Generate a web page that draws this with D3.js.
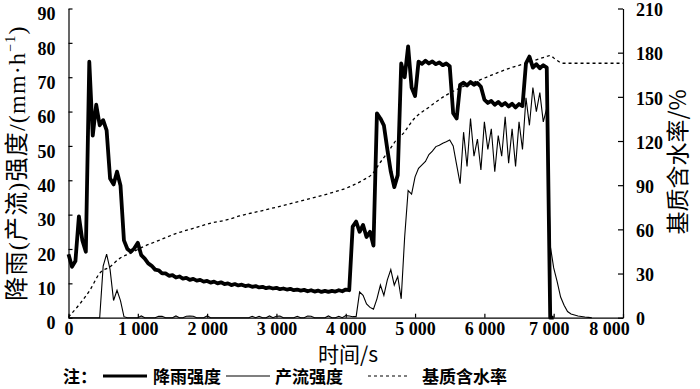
<!DOCTYPE html>
<html lang="zh">
<head>
<meta charset="UTF-8">
<title>降雨强度、产流强度与基质含水率</title>
<script src="https://d3js.org/d3.v7.min.js"></script>
<style>
    body { margin: 0; background: #fff; }
    .cjk { font-family: "Noto Sans CJK SC", sans-serif; fill: #000; }
    .axis path, .axis line { stroke: #000; stroke-width: 1.2; }
</style>
</head>
<body>
<svg id="chart"></svg>
<script>
// rainfall / runoff intensity (mm/h), sampled every 50 s
var sampleStep = 50;
var rain = [
    18.5, 14.8, 16.5, 29.5, 22.5, 19.2, 74.5, 53, 62, 56,
    57.5, 54.5, 40.5, 38.8, 42.5, 38.5, 22.5, 20, 19.2, 20.2,
    21.8, 18.2, 17.2, 15.8, 15.1, 14, 13.8, 12.9, 12.9, 12.2,
    12.4, 11.7, 12, 11.4, 11.6, 11, 11.3, 10.8, 11, 10.5,
    10.7, 10.2, 10.5, 10, 10.3, 9.8, 10, 9.5, 9.8, 9.4,
    9.6, 9.2, 9.4, 9, 9.2, 8.8, 9, 8.6, 8.8, 8.5,
    8.7, 8.3, 8.5, 8.2, 8.4, 8, 8.2, 7.9, 8.1, 7.7,
    8, 7.6, 7.9, 7.5, 7.8, 7.5, 7.8, 7.6, 8, 7.7,
    8.2, 8, 26.5, 28, 25, 27, 23.5, 25, 21, 59.5,
    58, 56, 49, 42.5, 38, 41.5, 74, 70, 79, 67,
    64.5, 74.5, 73.9, 74.8, 74, 74.6, 73.8, 74.3, 73.5, 74,
    73.2, 59.5, 58, 67.8, 68.4, 67.6, 68.6, 67.8, 68.3, 67.2,
    63.5, 62.5, 63.1, 62, 62.8, 61.8, 62.5, 61.5, 62.3, 61.2,
    62.2, 61.6, 74, 76, 72.8, 73.8, 72.6, 73.5, 72.8, 0,
    0
];
var runoff = [
    0, 0, 0, 0, 0, 0, 0, 0, 0, 0,
    15, 18.5, 14, 5, 8, 5, 0.3, 0, 0, 0,
    0, 0.5, 0, 0, 0, 0, 0.4, 0.4, 0, 0,
    0, 0.5, 0, 0, 0.4, 0.5, 0.4, 0, 0, 0,
    0.5, 0, 0, 0, 0, 0, 0, 0, 0, 0,
    0, 0, 0, 0.4, 0, 0.4, 0, 0, 0.5, 0,
    0.4, 0.5, 0, 0, 0, 0, 0.4, 0, 0, 0.5,
    0.4, 0, 0, 0, 0, 0.5, 0, 0, 0.4, 0,
    0.6, 0.5, 0.3, 0.3, 7.5, 6.5, 4, 3, 2.5, 5.5,
    9.5, 6.5, 11, 14, 9.5, 12, 5.5, 23.5, 37, 36,
    41, 43.5, 44.5, 45.5, 47.5, 48.5, 49.8, 50.2, 50.8, 51.2,
    51.7, 50, 44.5, 39, 54, 44, 58, 47, 52, 43,
    57, 49, 55, 42.5, 53, 47, 58.5, 45, 55, 44,
    57, 49, 64, 56, 67, 60, 65.5, 57, 61, 21,
    14.5, 10.5, 6, 3.6, 1.8, 1.1, 0.8, 0.5, 0.35, 0.2,
    0.1, 0
];
// substrate water content (%)
var waterTime = [0, 170, 310, 450, 600, 740, 890, 1080, 1320, 1560, 1800, 2040, 2280, 2470,
    2800, 3100, 3400, 3770, 4060, 4250, 4390, 4490, 4630, 4730, 4830, 4970, 5210, 5450,
    5690, 5930, 6170, 6360, 6600, 6890, 6940, 7040, 7130, 7400, 8000];
var waterValue = [0.5, 9.8, 18.8, 30.2, 34.6, 40.3, 43.7, 48.2, 52.8, 57.3, 60.7, 64.1, 66.4, 69.1,
    72.8, 76.2, 79.8, 84.5, 89, 93.5, 98, 104.9, 113.9, 120.7, 125.2, 134.3, 143.3, 151.2,
    156.9, 161.4, 166, 169.4, 172.8, 177.3, 178, 175, 172.8, 172.8, 172.8];

var xTicks = [0, 1000, 2000, 3000, 4000, 5000, 6000, 7000, 8000];
var leftTicks = [0, 10, 20, 30, 40, 50, 60, 70, 80, 90];
var rightTicks = [0, 30, 60, 90, 120, 150, 180, 210];
var legendItems = ["降雨强度", "产流强度", "基质含水率"];

var svgWidth = 700, svgHeight = 389;
var plotLeft = 68.5, plotRight = 623, plotTop = 8.5, plotBottom = 317.7;
var serif = '"Liberation Serif", "Times New Roman", serif';

var svg = d3.select("#chart").attr("width", svgWidth).attr("height", svgHeight);

var x = d3.scaleLinear().domain([0, 8000]).range([plotLeft, plotRight]);
var yL = d3.scaleLinear().domain([0, 90]).range([plotBottom, plotTop]);
var yR = d3.scaleLinear().domain([0, 210]).range([plotBottom, plotTop]);

function numStyle(sel) {
    sel.style("font-family", serif).style("font-size", "18px").style("font-weight", "bold").attr("fill", "#000");
}

// axes, ticks pointing inward
var gx = svg.append("g").attr("class", "axis").attr("transform", "translate(0," + plotBottom + ")")
    .call(d3.axisBottom(x).tickValues(xTicks).tickSize(-4).tickSizeOuter(0).tickPadding(5)
        .tickFormat(function(d) { return d3.format(",")(d).replace(",", " "); }));
gx.selectAll("text").call(numStyle)
    .attr("dx", function(d) { return d === 7000 ? -5 : (d === 8000 ? -14 : 0); });

var gl = svg.append("g").attr("class", "axis").attr("transform", "translate(" + plotLeft + ",0)")
    .call(d3.axisLeft(yL).tickValues(leftTicks).tickSize(-4).tickSizeOuter(0).tickPadding(13));
gl.selectAll("text").call(numStyle).attr("dy", "0.62em");

var gr = svg.append("g").attr("class", "axis").attr("transform", "translate(" + plotRight + ",0)")
    .call(d3.axisRight(yR).tickValues(rightTicks).tickSize(-5).tickSizeOuter(0).tickPadding(13));
gr.selectAll("text").call(numStyle).attr("dy", "0.4em");

// series
var rainLine = d3.line().x(function(d, i) { return x(i * sampleStep); }).y(function(d) { return yL(d); });
svg.append("path").datum(rain).attr("d", rainLine)
    .attr("fill", "none").attr("stroke", "#000").attr("stroke-width", 3.8).attr("stroke-linejoin", "round");

svg.append("path").datum(runoff).attr("d", rainLine)
    .attr("fill", "none").attr("stroke", "#000").attr("stroke-width", 1.1);

var waterLine = d3.line().curve(d3.curveMonotoneX)
    .x(function(d, i) { return x(waterTime[i]); }).y(function(d) { return yR(d); });
svg.append("path").datum(waterValue).attr("d", waterLine)
    .attr("fill", "none").attr("stroke", "#000").attr("stroke-width", 1.3).attr("stroke-dasharray", "3,3");

// axis titles
var lt = svg.append("text").attr("class", "cjk").attr("font-size", 24).attr("letter-spacing", 1.2)
    .attr("text-anchor", "middle").attr("transform", "translate(16.5,163) rotate(-90)").attr("dy", "0.36em");
lt.append("tspan").text("降雨");
lt.append("tspan").style("font-family", serif).text("(");
lt.append("tspan").text("产流");
lt.append("tspan").style("font-family", serif).text(")");
lt.append("tspan").text("强度");
lt.append("tspan").style("font-family", serif).text("/(mm·h");
lt.append("tspan").style("font-family", serif).attr("font-size", 14).attr("dy", "-0.7em").text("−1");
lt.append("tspan").style("font-family", serif).attr("dy", "0.41em").text(")");

svg.append("text").attr("class", "cjk").attr("font-size", 23)
    .attr("text-anchor", "middle").attr("transform", "translate(678,162) rotate(-90)").attr("dy", "0.36em")
    .text("基质含水率/%");

svg.append("text").attr("class", "cjk").attr("font-size", 21)
    .attr("text-anchor", "middle").attr("x", 348).attr("y", 362)
    .text("时间/s");

// legend
var lg = svg.append("g").attr("class", "cjk").attr("font-size", 17).attr("font-weight", "bold");
lg.append("text").attr("x", 63).attr("y", 383).text("注：");
lg.append("line").attr("x1", 103).attr("x2", 147).attr("y1", 376).attr("y2", 376)
    .attr("stroke", "#000").attr("stroke-width", 3);
lg.append("text").attr("x", 153).attr("y", 383).text(legendItems[0]);
lg.append("line").attr("x1", 226).attr("x2", 270).attr("y1", 376).attr("y2", 376)
    .attr("stroke", "#000").attr("stroke-width", 1.2);
lg.append("text").attr("x", 275).attr("y", 383).text(legendItems[1]);
lg.append("line").attr("x1", 368).attr("x2", 410).attr("y1", 376).attr("y2", 376)
    .attr("stroke", "#000").attr("stroke-width", 1.2).attr("stroke-dasharray", "3,3");
lg.append("text").attr("x", 422).attr("y", 383).text(legendItems[2]);
</script>
</body>
</html>
